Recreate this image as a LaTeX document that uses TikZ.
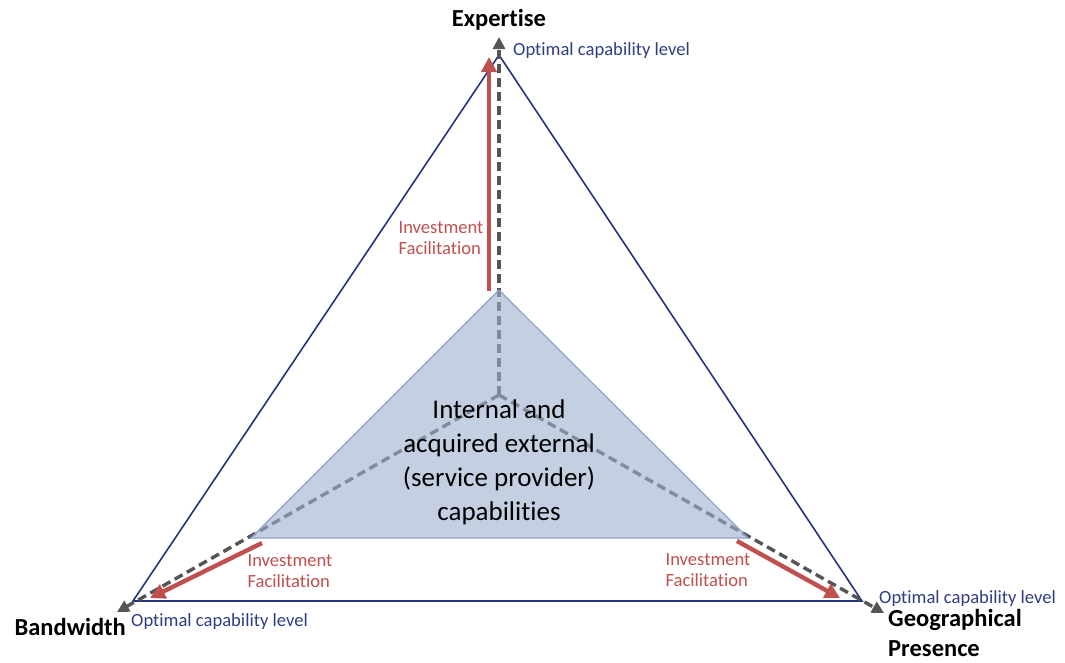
\documentclass[tikz,border=0pt]{standalone}
\usepackage{fontspec}
\setmainfont[Ligatures=NoCommon]{Carlito}
\usetikzlibrary{arrows.meta,calc}

\definecolor{frameblue}{RGB}{35,52,125}
\definecolor{levelblue}{RGB}{47,62,130}
\definecolor{invred}{RGB}{192,80,77}
\definecolor{axisgray}{RGB}{85,85,88}
\definecolor{corefill}{RGB}{157,177,206}
\definecolor{coreline}{RGB}{140,162,198}

\begin{document}
\begin{tikzpicture}[
  x=1pt,y=-1pt,
  frame/.style={draw=frameblue,line width=1.6pt,line join=miter},
  axis/.style={draw=axisgray,line width=3.4pt,dash pattern=on 9pt off 5pt,
    -{Triangle[length=12pt,width=12pt]}},
  core/.style={fill=corefill,fill opacity=0.6,draw=coreline,line width=1.2pt},
  inv/.style={draw=invred,line width=4.4pt,-{Triangle[length=15pt,width=15pt]}},
  invlabel/.style={text=invred,font=\fontsize{18.6}{21}\selectfont,align=left,inner sep=0pt},
  level/.style={text=levelblue,font=\fontsize{18.6}{21}\selectfont,inner sep=0pt},
  dim/.style={font=\fontsize{24.5}{30}\selectfont\bfseries,inner sep=0pt}
]
\useasboundingbox (0,0) rectangle (1065,662);
% outer triangle (optimal levels)
\coordinate (top) at (499,55);
\coordinate (bl) at (133,601);
\coordinate (br) at (862,601);
\draw[frame] (top) -- (br) -- (bl) -- cycle;
% axes
\coordinate (c) at (499,395);
\coordinate (topend) at (499,37);
\coordinate (blend) at (117,612);
\coordinate (brend) at (884,613);
\draw[axis] (c) -- (topend);
\draw[axis] (c) -- (blend);
\draw[axis] (c) -- (brend);
% current capabilities
\coordinate (itop) at (499,290);
\coordinate (ibl) at (251,538);
\coordinate (ibr) at (748,538);
\draw[core] (itop) -- (ibr) -- (ibl) -- cycle;
% investment arrows
\coordinate (ra) at (489,291);
\coordinate (rb) at (489,57);
\coordinate (rc) at (262,543);
\coordinate (rd) at (150,598);
\coordinate (re) at (737,541);
\coordinate (rf) at (840,598);
\draw[inv] (ra) -- (rb);
\draw[inv] (rc) -- (rd);
\draw[inv] (re) -- (rf);
% labels
\node[dim] (expertise) at (499,20) {Expertise};
\node[dim,anchor=east] (bandwidth) at (126,627) {Bandwidth};
\node[dim,anchor=north west,align=left] (geo) at (888,609) {Geographical\\Presence};
\node[level,anchor=west] (lvtop) at (513,51) {Optimal capability level};
\node[level,anchor=west] (lvbl) at (131,622) {Optimal capability level};
\node[level,anchor=west] (lvbr) at (879,599) {Optimal capability level};
\node[invlabel] (invtop) at (441,238) {Investment\\Facilitation};
\node[invlabel] (invbl) at (290,571) {Investment\\Facilitation};
\node[invlabel] (invbr) at (708,570) {Investment\\Facilitation};
\node[font=\fontsize{27}{34}\selectfont,align=center,inner sep=0pt] (core) at (499,462)
  {Internal and\\acquired external\\(service provider)\\capabilities};
\end{tikzpicture}
\end{document}
